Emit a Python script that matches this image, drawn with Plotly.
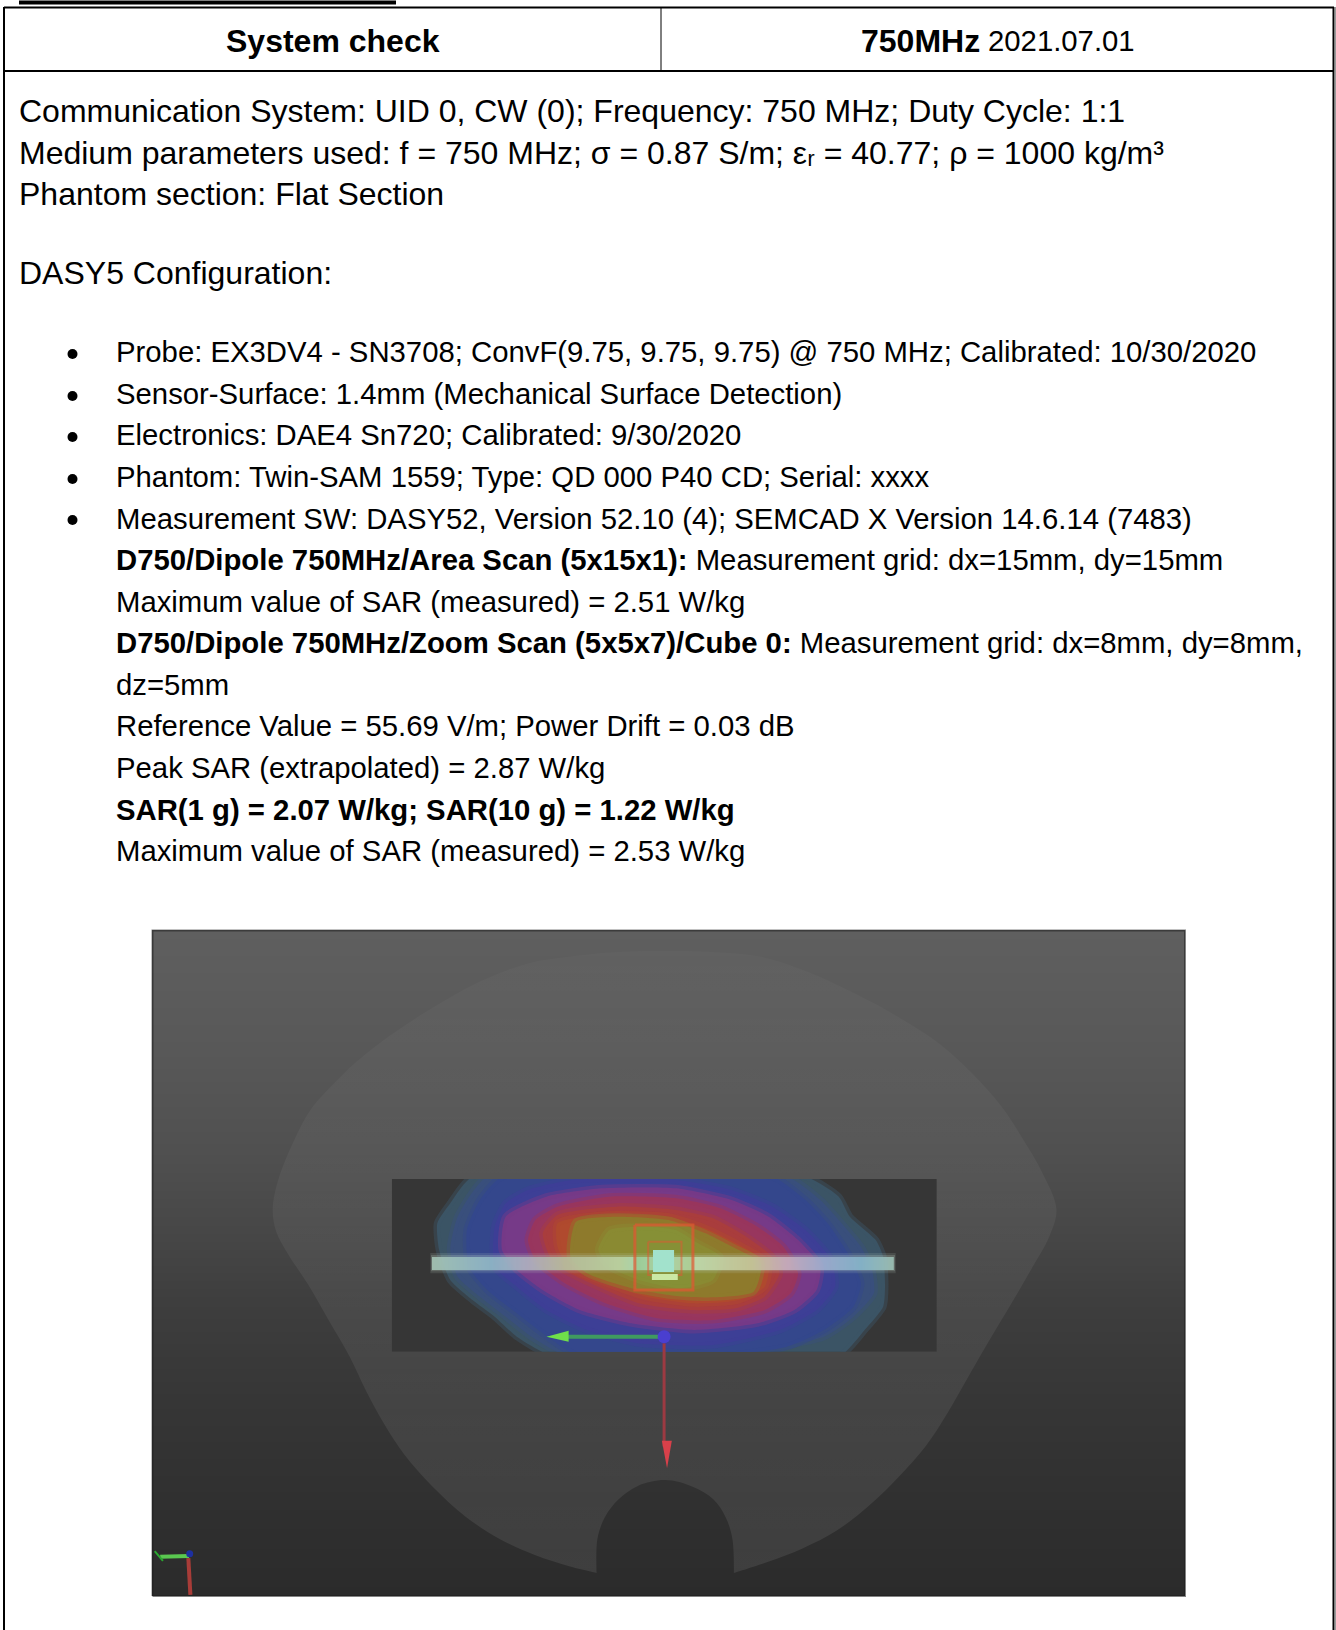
import plotly.graph_objects as go

# ---------- page text ----------
HEADER_LEFT = "<b>System check</b>"
HEADER_FREQ = "<b>750MHz</b>"
HEADER_DATE = "2021.07.01"
BLOCK_TEXT = [
    "Communication System: UID 0, CW (0); Frequency: 750 MHz; Duty Cycle: 1:1",
    "Medium parameters used: f = 750 MHz; σ = 0.87 S/m; εᵣ = 40.77; ρ = 1000 kg/m³",
    "Phantom section: Flat Section",
    "DASY5 Configuration:",
]
BLOCK_Y = [111, 153, 194, 273]
BULLET_TEXT = [
    "Probe: EX3DV4 - SN3708; ConvF(9.75, 9.75, 9.75) @ 750 MHz; Calibrated: 10/30/2020",
    "Sensor-Surface: 1.4mm (Mechanical Surface Detection)",
    "Electronics: DAE4 Sn720; Calibrated: 9/30/2020",
    "Phantom: Twin-SAM 1559; Type: QD 000 P40 CD; Serial: xxxx",
    "Measurement SW: DASY52, Version 52.10 (4); SEMCAD X Version 14.6.14 (7483)",
    "<b>D750/Dipole 750MHz/Area Scan (5x15x1):</b> Measurement grid: dx=15mm, dy=15mm",
    "Maximum value of SAR (measured) = 2.51 W/kg",
    "<b>D750/Dipole 750MHz/Zoom Scan (5x5x7)/Cube 0:</b> Measurement grid: dx=8mm, dy=8mm,",
    "dz=5mm",
    "Reference Value = 55.69 V/m; Power Drift = 0.03 dB",
    "Peak SAR (extrapolated) = 2.87 W/kg",
    "<b>SAR(1 g) = 2.07 W/kg; SAR(10 g) = 1.22 W/kg</b>",
    "Maximum value of SAR (measured) = 2.53 W/kg",
]
BULLET_Y = [351, 393, 434, 476, 518, 559, 601, 642, 684, 725, 767, 809, 850]
BULLET_DOT_Y = [354, 396, 437, 479, 520]

# ---------- picture: background gradient ----------
GRAD_Y = [930, 1050, 1150, 1230, 1300, 1400, 1500, 1596]
GRAD_GRAY = [95, 88, 80, 71, 62, 54, 48, 43]

# ---------- picture: phantom outline (overview crop units) ----------
HEAD_X = [680,680,680,640,590,540,490,440,400,370,345,320,290,260,230,213,208,215,235,262,290,330,380,440,510,580,640,700,780,860,920,990,1060,1120,1180,1230,1270,1300,1330,1350,1340,1315,1285,1250,1220,1190,1160,1120,1080,1030,980,930,880,880,880,878,868,850,820,780,740,712,692,681,680,680,680]
HEAD_Y = [1485,1485,1485,1470,1445,1410,1360,1290,1220,1150,1080,1000,920,840,770,720,670,610,530,450,400,340,280,220,160,120,105,95,92,95,105,140,190,240,300,370,440,510,590,670,730,800,880,970,1050,1130,1200,1270,1330,1390,1430,1460,1485,1485,1485,1410,1360,1320,1292,1277,1290,1320,1360,1410,1485,1485,1485]
HEAD_ALPHA_STOPS = [0.0, 0.3, 0.55, 0.8, 1.0]
HEAD_ALPHA = [0.02, 0.04, 0.06, 0.075, 0.085]

# ---------- picture: SAR bands (scan crop units), outer to inner ----------
SCAN_X = [32, 1505, 1505, 32, 32]
SCAN_Y = [57, 57, 575, 575, 57]
BAND_RGB = [(59,84,101), (57,79,124), (52,71,140), (61,63,150), (118,58,136), (152,54,94), (169,61,61), (176,74,46), (142,122,44), (138,138,50)]
BAND_X = [
    [250,700,1150,1240,1270,1340,1360,1365,1360,1310,1240,850,470,370,310,250,190,160,155,190],
    [290,700,1100,1190,1240,1300,1330,1335,1280,1200,900,510,410,340,270,210,190,210],
    [330,700,1060,1150,1210,1270,1300,1280,1200,1100,900,540,440,370,290,240,235,270],
    [400,520,800,950,1060,1150,1220,1230,1180,1080,900,700,560,450,370,310,310,340],
    [450,600,800,950,1050,1130,1190,1180,1120,1020,850,680,540,440,370,330,340],
    [480,620,800,920,1020,1090,1130,1110,1040,900,750,610,500,420,400,420],
    [480,640,800,900,990,1060,1080,1040,960,840,700,570,470,440],
    [480,600,780,880,980,1050,1040,970,850,720,600,510,480],
    [530,640,780,880,960,1030,1010,900,800,680,560,515],
    [620,720,800,860,920,900,810,700,620,590],
]
BAND_Y = [
    [50,45,50,110,170,240,290,380,440,510,590,600,590,530,470,420,360,270,190,130],
    [50,45,50,120,180,260,330,400,470,530,590,590,530,470,410,350,270,170],
    [50,45,50,120,190,290,370,440,510,560,590,590,520,460,390,320,210,120],
    [90,60,60,90,140,210,300,380,450,510,555,550,510,450,380,320,200,130],
    [110,85,85,120,170,240,320,390,450,490,510,490,450,390,330,270,170],
    [140,110,115,145,200,260,340,400,450,480,475,430,370,300,240,180],
    [165,140,150,175,230,290,340,410,445,450,430,370,310,220],
    [190,165,170,205,260,310,380,420,430,410,365,320,260],
    [185,170,180,220,265,310,395,412,408,385,340,290],
    [210,200,210,250,290,360,385,360,320,270],
]

# ---------- picture: dipole bar colours along its length ----------
BAR_STOPS = [0.0, 0.128, 0.208, 0.288, 0.408, 0.448, 0.504, 0.568, 0.688, 0.768, 0.848, 0.928, 1.0]
BAR_COLORS = ["#a8c8b8", "#90b8c8", "#b0b0c0", "#b8c0a0", "#bcd4a4", "#a8dcb8", "#c0e4cc", "#c0dcb0", "#c8c89c", "#c8b0c0", "#a0b0d0", "#88b8cc", "#a0c4b8"]

PAGE_W, PAGE_H = 1336, 1630
def dx(a, b):
    return [a / PAGE_W, b / PAGE_W]
def dy(a, b):
    return [1 - b / PAGE_H, 1 - a / PAGE_H]

common = dict(visible=False, fixedrange=True)
# subplots paint in id order, so the ids follow the picture's stacking
layout = dict(
    width=PAGE_W, height=PAGE_H, margin=dict(l=0, r=0, t=0, b=0),
    paper_bgcolor="white", plot_bgcolor="rgba(0,0,0,0)", showlegend=False,
    font=dict(family="Liberation Sans", color="#000"),
    xaxis=dict(domain=dx(152, 1185), range=[0, 1], **common),
    yaxis=dict(domain=dy(930, 1596), range=[1596, 930], **common),
    xaxis2=dict(domain=dx(130, 1206), range=[0, 1568], anchor="y2", **common),
    yaxis2=dict(domain=dy(910, 1610), range=[1568, 0], anchor="x2", **common),
    xaxis3=dict(domain=dx(391.8, 936.8), range=[32, 1505], anchor="y3", **common),
    yaxis3=dict(domain=dy(1179, 1351.7), range=[575, 57], anchor="x3", **common),
    xaxis4=dict(domain=dx(431.8, 894.2), range=[0, 1], anchor="y4", **common),
    yaxis4=dict(domain=dy(1257, 1270), range=[1, 0], anchor="x4", **common),
    xaxis5=dict(domain=dx(380, 960), range=[0, 1568], anchor="y5", **common),
    yaxis5=dict(domain=dy(1160, 1490), range=[990, 0], anchor="x5", **common),
    xaxis6=dict(domain=[0, 1], range=[0, PAGE_W], anchor="y6", **common),
    yaxis6=dict(domain=[0, 1], range=[PAGE_H, 0], anchor="x6", **common),
)

fig = go.Figure()
NOLINE = dict(width=0, color="rgba(0,0,0,0)")

def area(xs, ys, axes, color, line=NOLINE):
    fig.add_trace(go.Scatter(x=xs, y=ys, xaxis=axes[0], yaxis=axes[1], mode="lines", fill="toself",
                             line=line, fillcolor=color, hoverinfo="skip"))

def stroke(xs, ys, axes, color, width):
    fig.add_trace(go.Scatter(x=xs, y=ys, xaxis=axes[0], yaxis=axes[1], mode="lines",
                             line=dict(width=width, color=color), hoverinfo="skip"))

OVER, SCAN, TOP, PAGE = ("x2", "y2"), ("x3", "y3"), ("x5", "y5"), ("x6", "y6")

# gradient
gray_scale = [[0, "rgb(0,0,0)"], [1, "rgb(255,255,255)"]]
fig.add_trace(go.Heatmap(x=[0, 1], y=GRAD_Y, z=[[g, g] for g in GRAD_GRAY], zmin=0, zmax=255,
                         colorscale=gray_scale, showscale=False, zsmooth="best", hoverinfo="skip"))
# phantom
fig.add_trace(go.Scatter(
    x=HEAD_X, y=HEAD_Y, xaxis="x2", yaxis="y2", mode="lines", fill="toself",
    line=dict(width=0, color="rgba(0,0,0,0)", shape="spline", smoothing=1.0),
    fillgradient=dict(type="vertical", start=92, stop=1485,
                      colorscale=[[s, f"rgba(255,255,255,{a})"] for s, a in zip(HEAD_ALPHA_STOPS, HEAD_ALPHA)]),
    hoverinfo="skip"))
# corner triad
stroke([86, 44], [1447, 1449], OVER, "#5ac850", 4)
stroke([36, 48], [1436, 1458], OVER, "#2aa830", 2)
stroke([85, 88], [1452, 1534], OVER, "#a83c38", 4)
fig.add_trace(go.Scatter(x=[87], y=[1442], xaxis="x2", yaxis="y2", mode="markers", marker=dict(size=7, color="#1d2fa0"), hoverinfo="skip"))

# scan rectangle and SAR bands
area(SCAN_X, SCAN_Y, SCAN, "#363636")
for xs, ys, (r, g, b) in zip(BAND_X, BAND_Y, BAND_RGB):
    area(xs + xs[:1], ys + ys[:1], SCAN, f"rgb({r},{g},{b})",
         dict(width=7, color=f"rgba({r},{g},{b},0.45)", shape="spline", smoothing=0.6))
# dipole glow
area([136, 1394, 1394, 136, 136], [279, 279, 340, 340, 279], SCAN, "rgba(190,215,200,0.14)")
area([138, 1392, 1392, 138, 138], [285, 285, 334, 334, 285], SCAN, "rgba(190,215,200,0.22)")

# dipole bar
bar_scale = [[s, c] for s, c in zip(BAR_STOPS, BAR_COLORS)]
fig.add_trace(go.Heatmap(x=[0, 1], y=[0, 1], z=[[0, 1], [0, 1]], zmin=0, zmax=1, colorscale=bar_scale, opacity=0.88,
                         showscale=False, zsmooth="best", xaxis="x4", yaxis="y4", hoverinfo="skip"))

# zoom cube
area([689, 846, 846, 689, 689], [195, 195, 390, 390, 195], TOP, "rgba(120,170,70,0.2)", dict(width=3, color="rgba(225,85,50,0.7)"))
stroke([725, 815, 815, 725, 725], [245, 245, 345, 345, 245], TOP, "rgba(225,85,50,0.5)", 2)
area([738, 795, 795, 738, 738], [270, 270, 336, 336, 270], TOP, "#a2e2cc")
area([735, 805, 805, 735, 735], [342, 342, 360, 360, 342], TOP, "#cbe8a5")
# main axes arrows
stroke([770, 500], [530, 530], TOP, "#3f9a60", 4)
area([450, 510, 510, 450], [530, 512, 545, 530], TOP, "#6fe04a")
stroke([768, 768], [550, 860], TOP, "#9c3a42", 3)
area([762, 789, 776, 762], [842, 842, 925, 842], TOP, "#d8404a")
fig.add_trace(go.Scatter(x=[768], y=[530], xaxis="x5", yaxis="y5", mode="markers", marker=dict(size=13, color="#4a3fd0"), hoverinfo="skip"))

# darker picture edge
stroke([152.5, 152.5, 1185, 1185, 152.5], [1596, 930.5, 930.5, 1596, 1596], PAGE, "rgba(30,30,30,0.55)", 2)

# bullets
fig.add_trace(go.Scatter(x=[72.5] * len(BULLET_DOT_Y), y=BULLET_DOT_Y, xaxis="x6", yaxis="y6", mode="markers",
                         marker=dict(size=10, color="black"), hoverinfo="skip"))

# table rules
RULES = [(19, 2.5, 396, 2.5, 4, "black"), (4, 7.5, 1334, 7.5, 2, "black"), (4, 71, 1334, 71, 2, "black"),
         (661, 7, 661, 71, 1, "black"), (4, 7, 4, 1630, 2, "black"), (1333.5, 7, 1333.5, 1630, 2, "black"),
         (1335.5, 7, 1335.5, 1630, 1, "#999999")]
layout["shapes"] = [dict(type="line", xref="x6", yref="y6", x0=a, y0=b, x1=c, y1=d, line=dict(color=col, width=w))
                    for a, b, c, d, w, col in RULES]

ann = []
def text(x, y, s, size, anchor="left"):
    ann.append(dict(x=x, y=y, xref="x6", yref="y6", text=s, showarrow=False, xanchor=anchor, yanchor="middle",
                    align=anchor, font=dict(size=size, family="Liberation Sans", color="black"), borderpad=0))
text(333, 40.5, HEADER_LEFT, 32, "center")
text(860, 40.5, HEADER_FREQ, 32)
text(987, 40.5, HEADER_DATE, 29.3)
for y, s in zip(BLOCK_Y, BLOCK_TEXT):
    text(18, y, s, 32)
for y, s in zip(BULLET_Y, BULLET_TEXT):
    text(114.5, y, s, 29.3)
layout["annotations"] = ann

fig.update_layout(**layout)
fig.write_html("out.html", post_script="document.body.style.margin='0';", config=dict(displayModeBar=False))
